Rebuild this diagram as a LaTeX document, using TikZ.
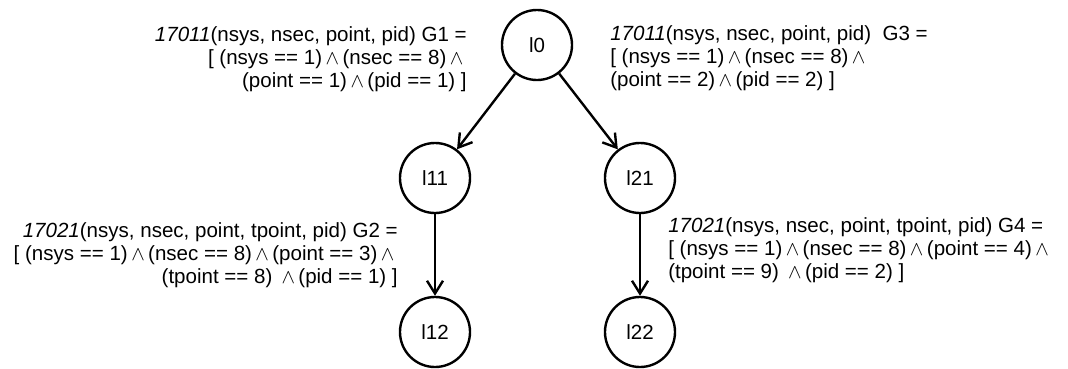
\documentclass[tikz,border=0pt]{standalone}
\usepackage{fontspec}
\setmainfont{Liberation Sans}
\usetikzlibrary{arrows.meta}

\newcommand{\aand}{\,$\wedge$\,}

\begin{document}
\begin{tikzpicture}[x=0.025cm,y=-0.025cm,
  state/.style={draw,circle,line width=1.7pt,minimum size=1.75cm,inner sep=0pt,font=\fontsize{14.6}{16}\selectfont},
  guard/.style={inner sep=0pt,font=\fontsize{14.6}{16.3}\selectfont},
  trans/.style={line width=1.7pt,-{Straight Barb[length=3.2mm,width=4mm,line width=1.7pt]}}]
\useasboundingbox (0,0) rectangle (1068,369);

% Locations
\node[state] (l0) at (537,45) {l0};
\node[state] (l11) at (435,178) {l11};
\node[state] (l21) at (640,178) {l21};
\node[state] (l12) at (435,332) {l12};
\node[state] (l22) at (640,332) {l22};

% Transitions
\draw[trans] (l0) -- (l11);
\draw[trans] (l0) -- (l21);
\draw[trans] (l11) -- (l12);
\draw[trans] (l21) -- (l22);

% Guards
\node[guard,anchor=east,align=right] (g1) at (467,59)
  {\textit{17011}(nsys, nsec, point, pid) G1 =\\
   {[} (nsys == 1)\aand(nsec == 8)\aand\\
   (point == 1)\aand(pid == 1) ]};
\node[guard,anchor=west,align=left] (g3) at (610,58)
  {\textit{17011}(nsys, nsec, point, pid)~ G3 =\\
   {[} (nsys == 1)\aand(nsec == 8)\aand\\
   (point == 2)\aand(pid == 2) ]};
\node[guard,anchor=east,align=right] (g2) at (398,255)
  {\textit{17021}(nsys, nsec, point, tpoint, pid) G2 =\\
   {[} (nsys == 1)\aand(nsec == 8)\aand(point == 3)\aand\\
   (tpoint == 8)~\aand(pid == 1) ]};
\node[guard,anchor=west,align=left] (g4) at (668,250)
  {\textit{17021}(nsys, nsec, point, tpoint, pid) G4 =\\
   {[} (nsys == 1)\aand(nsec == 8)\aand(point == 4)\aand\\
   (tpoint == 9)~\aand(pid == 2) ]};
\end{tikzpicture}
\end{document}
